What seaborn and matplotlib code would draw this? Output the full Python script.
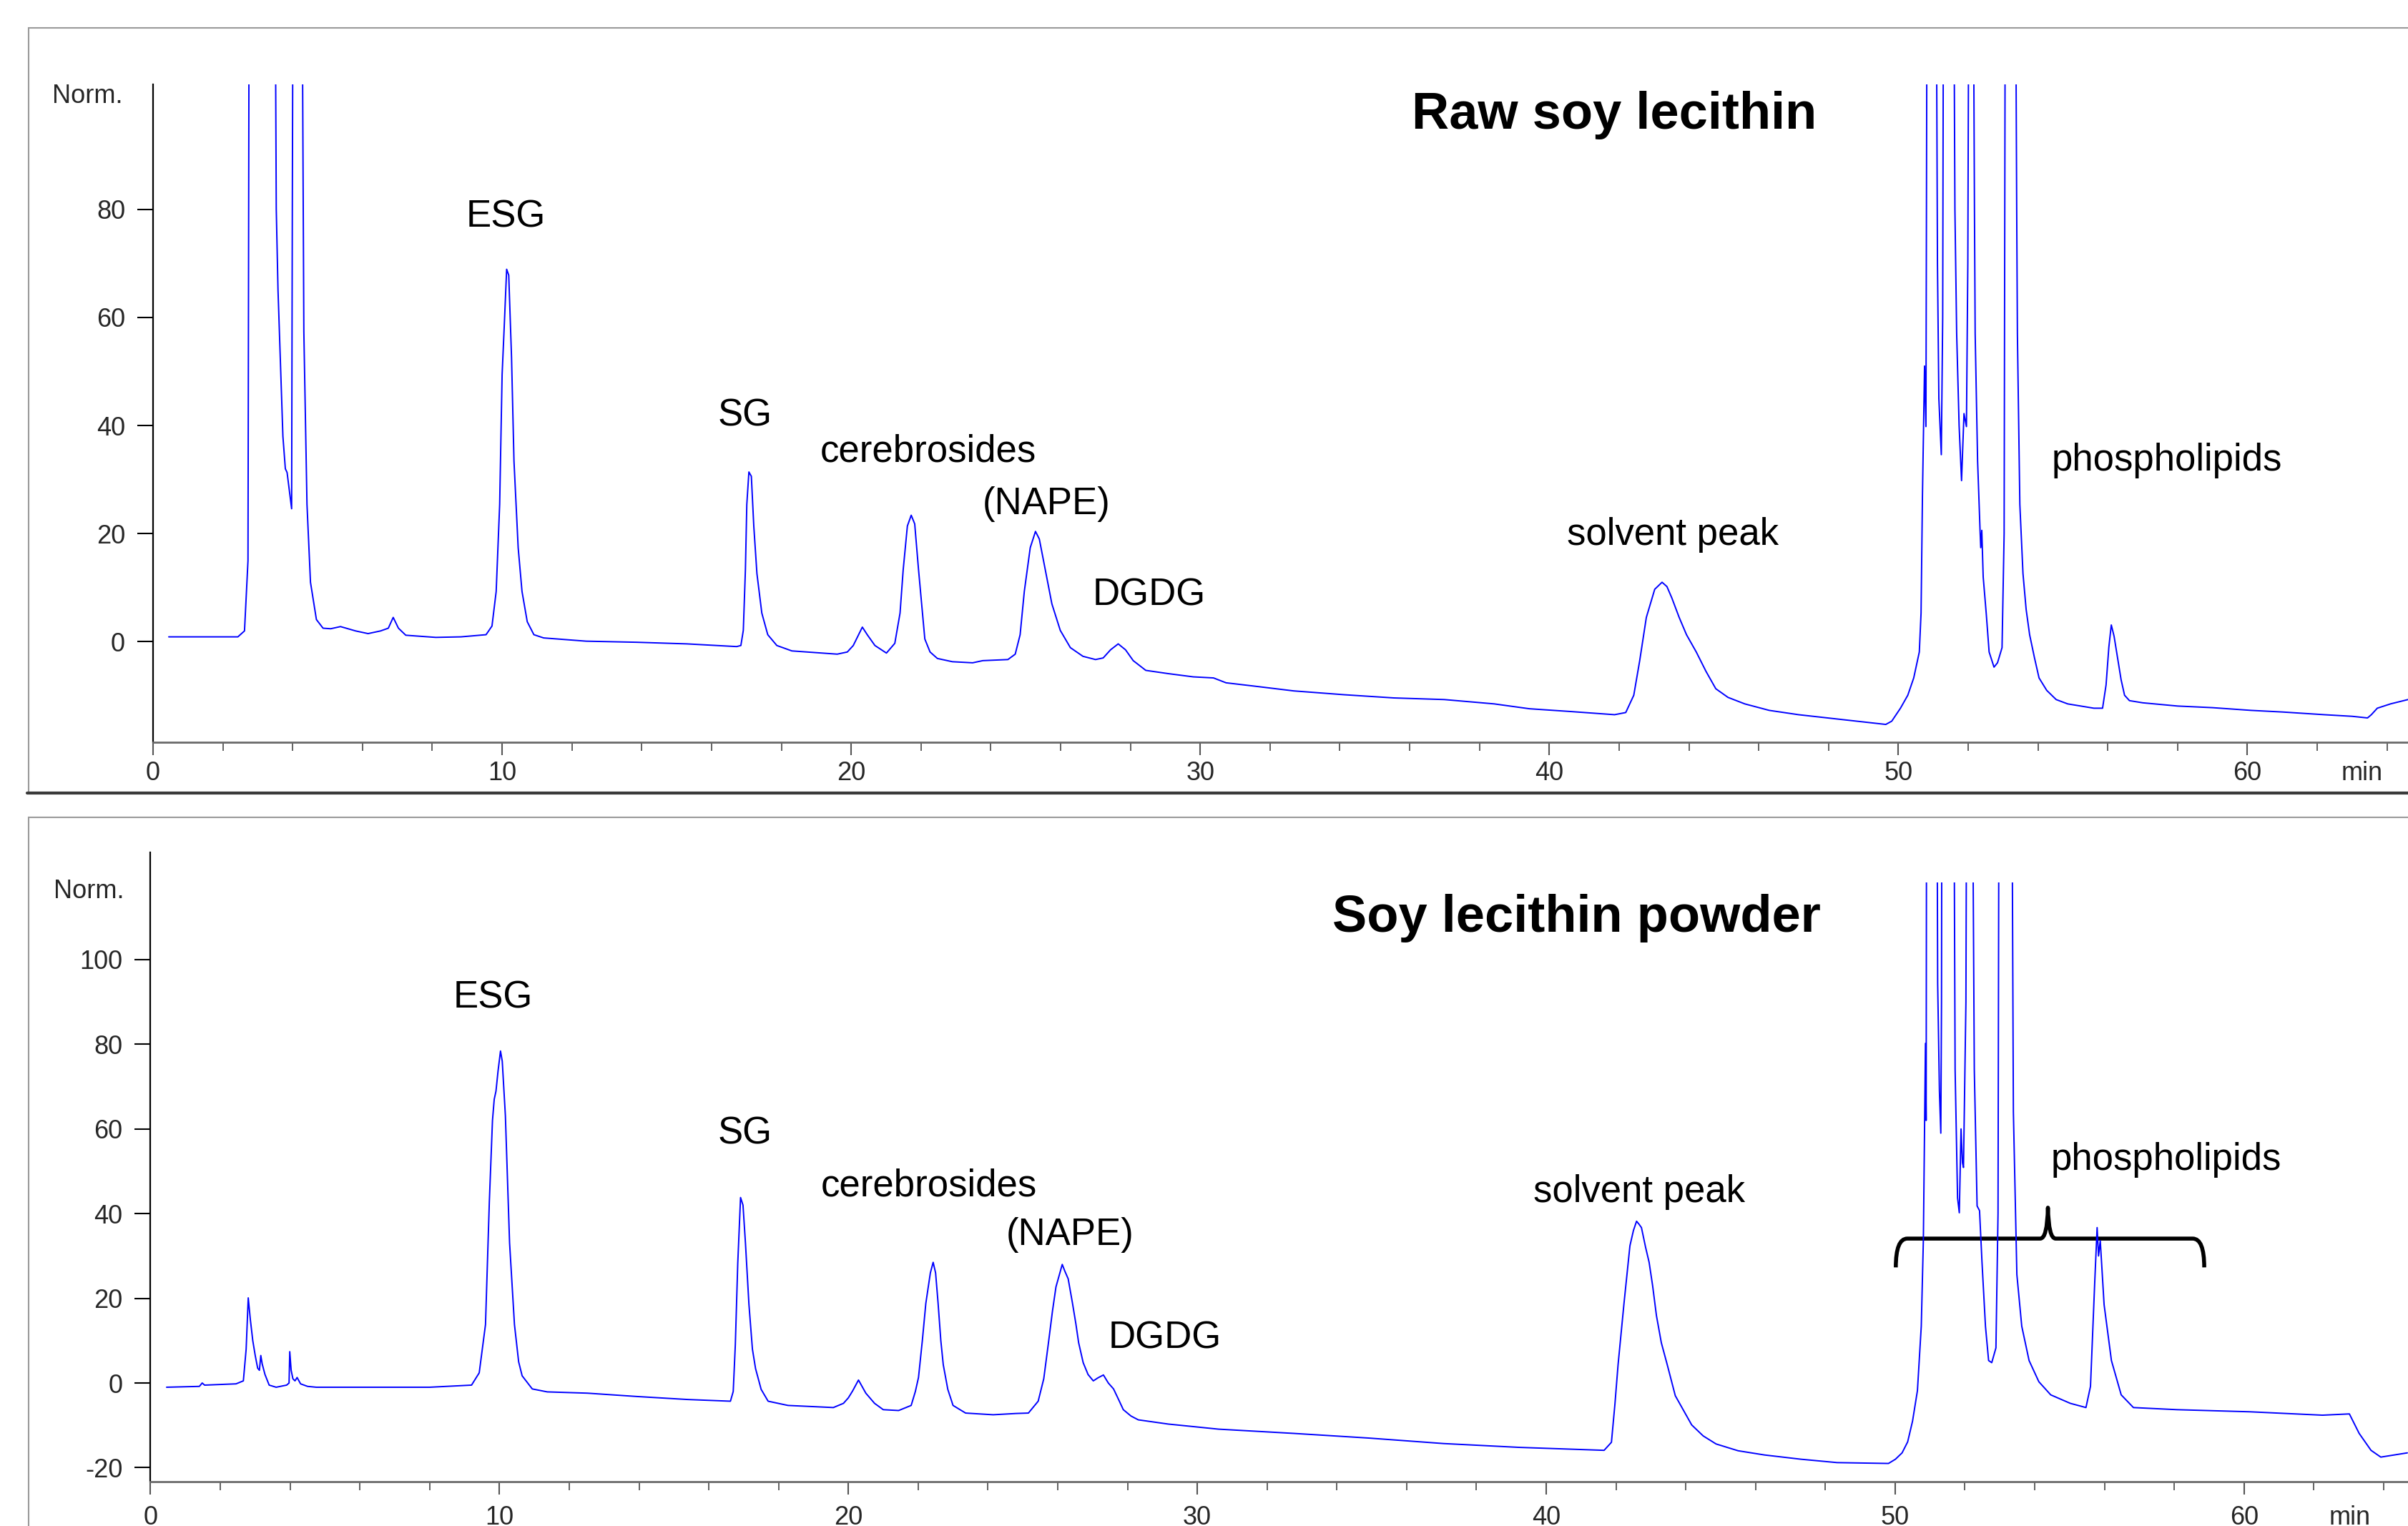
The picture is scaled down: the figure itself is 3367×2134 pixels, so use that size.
import matplotlib
matplotlib.use("Agg")
import matplotlib.pyplot as plt
import seaborn as sns
from matplotlib.patches import Rectangle, PathPatch
from matplotlib.path import Path
from matplotlib.lines import Line2D
from matplotlib.ticker import MultipleLocator

# ---------------- data ----------------
# (retention time [min], normalised signal); 150 / 200 = off-scale tops
raw_points = [
    (0.45, 0.9), (1.5, 0.9), (2.43, 0.9), (2.62, 2.0), (2.72, 15.0), (2.76, 150.0),
    (3.48, 150.0), (3.53, 80.0), (3.58, 65.0), (3.72, 38.0), (3.79, 32.0), (3.84, 31.3),
    (3.97, 24.6), (3.99, 80.0), (4.02, 150.0), (4.25, 150.0), (4.32, 57.4), (4.41, 25.4),
    (4.51, 11.0), (4.68, 4.1), (4.87, 2.5), (5.09, 2.4), (5.37, 2.8), (5.8, 2.0),
    (6.16, 1.5), (6.52, 2.0), (6.74, 2.5), (6.88, 4.5), (7.03, 2.5), (7.24, 1.2),
    (8.1, 0.8), (8.82, 0.9), (9.54, 1.3), (9.71, 2.9), (9.83, 9.3), (9.93, 25.4),
    (10.0, 49.4), (10.06, 58.2), (10.13, 68.9), (10.19, 67.8), (10.27, 52.6), (10.34, 33.4),
    (10.46, 17.4), (10.57, 9.3), (10.72, 3.7), (10.91, 1.3), (11.19, 0.7), (12.41, 0.1),
    (13.85, -0.1), (15.29, -0.4), (16.72, -0.9), (16.84, -0.7), (16.91, 2.1), (16.97, 13.3),
    (17.01, 25.4), (17.07, 31.4), (17.14, 30.6), (17.21, 21.4), (17.3, 12.6), (17.44, 5.3),
    (17.61, 1.3), (17.87, -0.7), (18.3, -1.7), (19.6, -2.3), (19.89, -1.9), (20.06, -0.7),
    (20.32, 2.7), (20.46, 1.3), (20.68, -0.7), (21.01, -2.1), (21.25, -0.3), (21.4, 5.3),
    (21.49, 13.3), (21.61, 21.4), (21.72, 23.4), (21.82, 21.8), (21.93, 13.3), (22.11, 0.5),
    (22.26, -1.9), (22.47, -3.1), (22.9, -3.7), (23.48, -3.9), (23.77, -3.5), (24.49, -3.3),
    (24.7, -2.3), (24.84, 1.3), (24.96, 9.3), (25.13, 17.4), (25.28, 20.4), (25.39, 19.0),
    (25.56, 13.3), (25.75, 7.0), (25.99, 2.1), (26.28, -1.1), (26.64, -2.7), (27.0, -3.3),
    (27.22, -3.0), (27.43, -1.5), (27.65, -0.4), (27.86, -1.5), (28.08, -3.5), (28.44, -5.3),
    (29.08, -5.9), (29.8, -6.5), (30.38, -6.7), (30.74, -7.6), (31.53, -8.2), (32.68, -9.1),
    (34.11, -9.8), (35.55, -10.4), (36.99, -10.7), (38.42, -11.5), (39.43, -12.4), (40.58, -12.9),
    (41.87, -13.5), (42.19, -13.1), (42.42, -9.9), (42.59, -3.5), (42.78, 4.5), (43.02, 9.7),
    (43.23, 11.0), (43.37, 10.2), (43.51, 8.1), (43.72, 4.5), (43.93, 1.3), (44.21, -1.9),
    (44.49, -5.5), (44.77, -8.7), (45.12, -10.3), (45.6, -11.5), (46.3, -12.7), (47.14, -13.5),
    (48.25, -14.3), (49.09, -14.9), (49.64, -15.3), (49.81, -14.7), (50.06, -12.3), (50.27, -9.9),
    (50.44, -6.7), (50.6, -1.9), (50.65, 5.3), (50.69, 27.0), (50.75, 51.0), (50.79, 39.8),
    (50.83, 150.0), (51.07, 150.0), (51.12, 70.0), (51.16, 45.0), (51.23, 34.6), (51.27, 60.0),
    (51.3, 150.0), (51.57, 150.0), (51.62, 80.0), (51.67, 57.0), (51.74, 40.0), (51.81, 29.8),
    (51.88, 42.2), (51.95, 39.8), (51.99, 70.0), (52.03, 150.0), (52.13, 150.0), (52.18, 80.0),
    (52.2, 57.0), (52.27, 33.4), (52.34, 20.6), (52.36, 17.4), (52.39, 20.6), (52.43, 12.0),
    (52.52, 5.0), (52.6, -1.9), (52.74, -4.7), (52.84, -3.9), (52.97, -1.1), (53.03, 20.0),
    (53.07, 150.0), (53.34, 150.0), (53.39, 80.0), (53.41, 57.0), (53.48, 25.4), (53.57, 12.6),
    (53.66, 6.0), (53.76, 1.3), (53.9, -3.0), (54.03, -6.7), (54.25, -9.0), (54.52, -10.7),
    (54.85, -11.5), (55.22, -11.9), (55.6, -12.3), (55.85, -12.3), (55.95, -8.0), (56.03, -1.0),
    (56.1, 3.1), (56.18, 1.0), (56.28, -3.0), (56.38, -7.0), (56.48, -9.9), (56.62, -10.9),
    (57.0, -11.3), (58.0, -11.9), (59.0, -12.2), (60.1, -12.7), (61.0, -13.0), (62.2, -13.5),
    (63.0, -13.8), (63.44, -14.1), (63.55, -13.5), (63.72, -12.3), (64.1, -11.5), (64.6, -10.7),
]

powder_points = [
    (0.46, -1.0), (1.4, -0.8), (1.48, 0.0), (1.55, -0.5), (2.45, -0.2), (2.66, 0.5),
    (2.74, 8.0), (2.8, 20.1), (2.86, 15.0), (2.93, 10.0), (3.0, 6.5), (3.07, 3.5),
    (3.12, 3.0), (3.16, 6.5), (3.2, 4.5), (3.28, 2.0), (3.4, -0.5), (3.6, -1.0),
    (3.9, -0.5), (3.97, 0.0), (3.99, 7.4), (4.03, 3.0), (4.08, 1.0), (4.14, 0.5),
    (4.2, 1.3), (4.3, -0.2), (4.5, -0.8), (4.75, -1.0), (6.0, -1.0), (8.0, -1.0),
    (9.2, -0.5), (9.42, 2.4), (9.6, 13.8), (9.71, 42.8), (9.8, 62.0), (9.85, 67.0),
    (9.9, 68.9), (9.96, 73.7), (10.03, 78.4), (10.08, 76.0), (10.17, 63.1), (10.29, 33.1),
    (10.43, 13.8), (10.55, 5.0), (10.65, 1.7), (10.94, -1.4), (11.37, -2.1), (12.52, -2.4),
    (13.96, -3.2), (15.4, -3.9), (16.62, -4.3), (16.7, -2.0), (16.76, 9.0), (16.83, 28.3),
    (16.91, 43.8), (16.98, 42.0), (17.05, 33.1), (17.15, 18.6), (17.25, 8.0), (17.34, 3.4),
    (17.5, -1.5), (17.7, -4.3), (18.27, -5.3), (19.57, -5.8), (19.86, -4.8), (20.0, -3.5),
    (20.12, -1.9), (20.29, 0.7), (20.5, -2.4), (20.75, -4.8), (21.0, -6.3), (21.44, -6.5),
    (21.8, -5.3), (21.92, -2.0), (22.01, 1.3), (22.12, 10.0), (22.22, 18.8), (22.35, 26.0),
    (22.43, 28.5), (22.5, 26.0), (22.57, 19.0), (22.65, 10.0), (22.72, 4.3), (22.85, -1.5),
    (23.0, -5.3), (23.36, -7.1), (24.15, -7.5), (24.8, -7.2), (25.16, -7.1), (25.44, -4.3),
    (25.6, 1.0), (25.73, 9.2), (25.85, 17.0), (25.95, 22.7), (26.13, 28.0), (26.2, 26.5),
    (26.3, 24.6), (26.42, 19.0), (26.52, 14.0), (26.6, 9.5), (26.73, 4.8), (26.87, 2.0),
    (27.02, 0.5), (27.15, 1.2), (27.31, 1.9), (27.45, 0.0), (27.6, -1.4), (27.75, -4.0),
    (27.88, -6.3), (28.1, -7.8), (28.31, -8.7), (29.17, -9.7), (30.61, -10.9), (32.76, -11.9),
    (34.91, -13.0), (37.06, -14.3), (39.22, -15.2), (41.66, -15.9), (41.87, -14.0), (41.97, -5.0),
    (42.06, 4.3), (42.15, 12.0), (42.23, 18.8), (42.32, 26.0), (42.4, 32.4), (42.5, 36.0),
    (42.59, 38.2), (42.66, 37.5), (42.73, 36.7), (42.85, 32.0), (42.95, 28.5), (43.05, 23.0),
    (43.16, 15.9), (43.3, 9.5), (43.47, 4.3), (43.7, -3.0), (44.17, -9.9), (44.5, -12.5),
    (44.87, -14.4), (45.5, -16.0), (46.26, -17.0), (47.3, -18.0), (48.34, -18.8), (49.81, -19.0),
    (50.01, -18.0), (50.2, -16.5), (50.36, -13.9), (50.5, -9.0), (50.64, -1.8), (50.75, 13.4),
    (50.81, 33.7), (50.85, 64.0), (50.87, 80.2), (50.89, 62.0), (50.91, 200.0), (51.18, 200.0),
    (51.22, 94.4), (51.27, 69.0), (51.31, 59.0), (51.33, 90.0), (51.35, 200.0), (51.66, 200.0),
    (51.72, 74.0), (51.79, 43.7), (51.84, 40.2), (51.89, 60.0), (51.93, 52.0), (51.96, 50.9),
    (52.03, 90.0), (52.07, 200.0), (52.18, 200.0), (52.27, 74.0), (52.35, 41.8), (52.42, 40.7),
    (52.49, 28.6), (52.59, 13.4), (52.68, 5.3), (52.77, 4.8), (52.89, 8.3), (52.95, 40.0),
    (52.99, 200.0), (53.32, 200.0), (53.39, 64.0), (53.49, 25.6), (53.63, 13.4), (53.84, 5.3),
    (54.12, 0.3), (54.46, -2.8), (55.02, -4.8), (55.47, -5.8), (55.6, -0.8), (55.72, 23.5),
    (55.79, 36.7), (55.83, 30.0), (55.88, 33.6), (55.99, 18.5), (56.2, 5.3), (56.48, -2.8),
    (56.83, -5.8), (58.08, -6.3), (60.17, -6.8), (62.25, -7.6), (63.02, -7.3), (63.3, -11.9),
    (63.64, -15.9), (63.92, -17.5), (64.3, -17.0), (64.68, -16.5),
]

raw_time = [p[0] for p in raw_points]
raw_signal = [p[1] for p in raw_points]
powder_time = [p[0] for p in powder_points]
powder_signal = [p[1] for p in powder_points]

# peak labels: text, time, signal position
raw_labels = [("ESG", 10.1, 78.5), ("SG", 16.96, 41.8), ("cerebrosides", 22.2, 35.2),
              ("(NAPE)", 25.6, 25.5), ("DGDG", 28.53, 8.6), ("solvent peak", 43.53, 19.8),
              ("phospholipids", 57.7, 33.5)]
powder_labels = [("ESG", 9.81, 91.0), ("SG", 17.03, 58.8), ("cerebrosides", 22.3, 46.6),
                 ("(NAPE)", 26.35, 35.0), ("DGDG", 29.08, 10.5), ("solvent peak", 42.67, 45.1),
                 ("phospholipids", 57.77, 52.7)]
titles = ["Raw soy lecithin", "Soy lecithin powder"]
title_pos = [(41.86, 97.4), (40.87, 109.7)]
x_ticks = [0, 10, 20, 30, 40, 50, 60]
raw_yticks = [0, 20, 40, 60, 80]
powder_yticks = [-20, 0, 20, 40, 60, 80, 100]
brace_span = (50.02, 58.86, 54.38)   # left, right, tip (min)
brace_levels = (27.3, 34.1, 41.4)    # ends, bar, tip

# ---------------- figure ----------------
sns.set_theme(style="white")
plt.rcParams["font.family"] = ["Liberation Sans", "DejaVu Sans"]

W, H, DPI = 3367, 2134, 100
fig = plt.figure(figsize=(W / DPI, H / DPI), dpi=DPI)
fig.patch.set_facecolor("white")


def fx(px):
    return px / W


def fy(py):
    return 1 - py / H


# panel frames (ChemStation-like boxes)
fig.patches.append(Rectangle((fx(40), fy(1108)), 1.2, fy(39) - fy(1108), transform=fig.transFigure,
                             fill=False, edgecolor="#9a9a9a", lw=1.5))
fig.lines.append(Line2D([fx(38), 1.0], [fy(1109), fy(1109)], transform=fig.transFigure,
                        color="#3a3a3a", lw=3.0))
fig.patches.append(Rectangle((fx(40), fy(2300)), 1.2, fy(1143) - fy(2300), transform=fig.transFigure,
                             fill=False, edgecolor="#9a9a9a", lw=1.5))

ax1 = fig.add_axes([fx(214), fy(1038), 1 - fx(214), fy(118) - fy(1038)])
ax2 = fig.add_axes([fx(210.5), fy(2072), 1 - fx(210.5), fy(1192) - fy(2072)])
ax1.set_xlim(0, 64.6)
ax1.set_ylim(-18.6, 103.1)
ax2.set_xlim(0, 64.7)
ax2.set_ylim(-23.3, 125.3)

sns.lineplot(x=raw_time, y=raw_signal, ax=ax1, color="#0000ff", linewidth=1.4,
             estimator=None, sort=False, errorbar=None, legend=False)
sns.lineplot(x=powder_time, y=powder_signal, ax=ax2, color="#0000ff", linewidth=1.4,
             estimator=None, sort=False, errorbar=None, legend=False)
# bottom trace is cut a little below the axis top
clip = Rectangle((-5, -40), 80, 40 + 118.2, transform=ax2.transData)
ax2.lines[-1].set_clip_path(clip)

for ax, yt, xpad in ((ax1, raw_yticks, 6), (ax2, powder_yticks, 11)):
    ax.set_facecolor("none")
    for s in ("top", "right"):
        ax.spines[s].set_visible(False)
    ax.spines["left"].set_color("black")
    ax.spines["left"].set_linewidth(1.6)
    ax.spines["bottom"].set_color("#6a6a6a")
    ax.spines["bottom"].set_linewidth(2.0)
    ax.set_xticks(x_ticks)
    ax.set_xticklabels([str(v) for v in x_ticks])
    ax.xaxis.set_minor_locator(MultipleLocator(2))
    ax.set_yticks(yt)
    ax.set_yticklabels([str(v) for v in yt])
    ax.tick_params(axis="x", which="major", direction="out", length=13, width=1.5,
                   color="#555555", labelsize=26, pad=xpad, bottom=True)
    ax.tick_params(axis="x", which="minor", direction="out", length=8.5, width=1.3,
                   color="#555555", bottom=True)
    ax.tick_params(axis="y", which="major", direction="out", length=16, width=1.5,
                   color="black", labelsize=26, pad=12, left=True)
    ax.set_xlabel("")
    ax.set_ylabel("")
    ax.grid(False)

for ax, labels in ((ax1, raw_labels), (ax2, powder_labels)):
    for txt, t, v in labels:
        ax.text(t, v, txt, ha="center", va="center", fontsize=38, color="black")

for ax, ttl, (t, v) in zip((ax1, ax2), titles, title_pos):
    ax.text(t, v, ttl, ha="center", va="center", fontsize=52, fontweight="bold", color="black")

for ax, tmin, off in ((ax1, 63.29, -19), (ax2, 63.04, -24)):
    ax.annotate("min", xy=(tmin, 0), xycoords=("data", "axes fraction"), xytext=(0, off),
                textcoords="offset points", ha="center", va="top", fontsize=26)

fig.text(fx(122), fy(135), "Norm.", ha="center", va="center", fontsize=26)
fig.text(fx(124.5), fy(1247), "Norm.", ha="center", va="center", fontsize=26)

# curly brace over the phospholipid region
l, r, tip = brace_span
ye, yb, yt_ = brace_levels
verts = [(l, ye), (l, yb), (l + 0.33, yb),
         (tip - 0.22, yb), (tip - 0.02, yb), (tip, yt_),
         (tip + 0.02, yb), (tip + 0.22, yb),
         (r - 0.33, yb), (r, yb), (r, ye)]
codes = [Path.MOVETO, Path.CURVE3, Path.CURVE3,
         Path.LINETO, Path.CURVE3, Path.CURVE3,
         Path.CURVE3, Path.CURVE3,
         Path.LINETO, Path.CURVE3, Path.CURVE3]
ax2.add_patch(PathPatch(Path(verts, codes), fill=False, edgecolor="black", lw=4.0,
                        capstyle="butt", joinstyle="round"))

fig.savefig("out.png", dpi=DPI, facecolor="white")
